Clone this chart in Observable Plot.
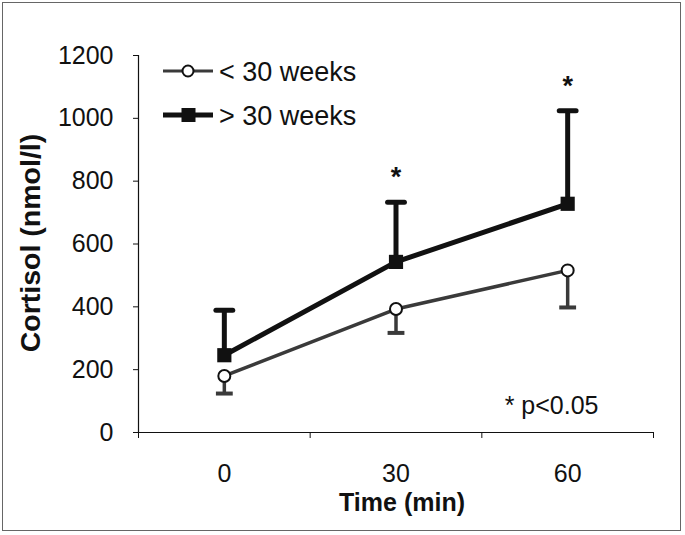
<!DOCTYPE html>
<html>
<head>
<meta charset="utf-8">
<script src="https://cdn.jsdelivr.net/npm/d3@7"></script>
<script src="https://cdn.jsdelivr.net/npm/@observablehq/plot@0.6"></script>
<style>
  html, body { margin: 0; padding: 0; background: #fff; }
  #wrap { position: relative; width: 685px; height: 535px; }
  #border { position: absolute; left: 2px; top: 2px; width: 679px; height: 529px; border: 1px solid #666; box-sizing: border-box; pointer-events: none; }
  svg { font-family: "Liberation Sans", Arial, sans-serif; }
</style>
</head>
<body>
<div id="wrap"><div id="border"></div></div>
<script>
// ---- data ----
const times = [0, 30, 60];
const under30Mean = [180, 393, 516];
const under30Lower = [124, 317, 398];
const over30Mean = [246, 543, 728];
const over30Upper = [389, 733, 1024];
const significant = [30, 60];
const yTicks = [0, 200, 400, 600, 800, 1000, 1200];
const xTickLabels = [0, 30, 60];
const xBandEdges = [-15, 15, 45, 75];
const seriesNames = ["< 30 weeks", "> 30 weeks"];

const under = times.map((t, i) => ({t, mean: under30Mean[i], err: under30Lower[i]}));
const over = times.map((t, i) => ({t, mean: over30Mean[i], err: over30Upper[i]}));
const stars = significant.map(t => over.find(d => d.t === t));

const hline = {
  draw(context, size) {
    const w = Math.sqrt(size) / 2;
    context.moveTo(-w, 0);
    context.lineTo(w, 0);
  }
};

const FONT = 25;
const grayC = "#3a3a3a";

const chart = Plot.plot({
  width: 685,
  height: 535,
  marginLeft: 138,
  marginRight: 32,
  marginTop: 55,
  marginBottom: 103,
  style: {fontFamily: "'Liberation Sans', Arial, sans-serif", background: "transparent", overflow: "visible"},
  x: {type: "linear", domain: [xBandEdges[0], xBandEdges[xBandEdges.length - 1]]},
  y: {domain: [0, 1200]},
  marks: [
    // axes lines
    Plot.ruleX([xBandEdges[0]], {stroke: "#111", strokeWidth: 1.2}),
    Plot.ruleY([0], {stroke: "#111", strokeWidth: 1.2}),
    Plot.axisY({ticks: yTicks, tickSize: 5, tickPadding: 20, fontSize: FONT, tickFormat: d => String(d), label: null, stroke: "#111", color: "#111"}),
    Plot.axisX({ticks: xBandEdges, tickSize: 6, tickFormat: () => "", label: null, stroke: "#111"}),
    Plot.axisX({ticks: xTickLabels, tickSize: 0, tickPadding: 32, fontSize: FONT, tickFormat: d => String(d), label: null, color: "#111"}),
    // error bars (< 30 weeks, downward)
    Plot.ruleX(under, {x: "t", y1: "mean", y2: "err", stroke: grayC, strokeWidth: 3.5}),
    Plot.dot(under, {x: "t", y: "err", symbol: hline, r: 9.5, stroke: grayC, strokeWidth: 4, fill: "none"}),
    // error bars (> 30 weeks, upward)
    Plot.ruleX(over, {x: "t", y1: "mean", y2: "err", stroke: "#111", strokeWidth: 5}),
    Plot.dot(over, {x: "t", y: "err", symbol: hline, r: 9.5, stroke: "#111", strokeWidth: 5, strokeLinecap: "round", fill: "none"}),
    // lines
    Plot.line(under, {x: "t", y: "mean", stroke: grayC, strokeWidth: 3.5}),
    Plot.line(over, {x: "t", y: "mean", stroke: "#111", strokeWidth: 5}),
    // markers
    Plot.dot(under, {x: "t", y: "mean", r: 6, fill: "#fff", stroke: "#111", strokeWidth: 2}),
    Plot.dot(over, {x: "t", y: "mean", symbol: "square", r: 8, fill: "#111", stroke: "none"}),
    // significance asterisks
    Plot.text(stars, {x: "t", y: "err", text: () => "*", fontSize: 27, fontWeight: "bold", lineAnchor: "bottom", dy: -16, fill: "#111"}),
    Plot.text(["* p<0.05"], {frameAnchor: "bottom-right", textAnchor: "end", lineAnchor: "bottom", dx: -55, dy: -19, fontSize: FONT, fill: "#111"}),
    // axis titles
    Plot.text(["Time (min)"], {frameAnchor: "bottom", textAnchor: "middle", lineAnchor: "bottom", dx: 6, dy: 78, fontSize: FONT, fontWeight: "bold", fill: "#111"}),
    Plot.text(["Cortisol (nmol/l)"], {frameAnchor: "left", textAnchor: "middle", rotate: -90, lineAnchor: "middle", dx: -108, dy: -1, fontSize: 28.5, fontWeight: "bold", fill: "#111"})
  ]
});

document.getElementById("wrap").prepend(chart);

// legend (inside plot area, top-left)
const svg = d3.select(chart);
const lg = svg.append("g").attr("font-family", "'Liberation Sans', Arial, sans-serif").attr("font-size", 27).attr("fill", "#111").attr("text-anchor", "start");
const rows = [
  {name: seriesNames[0], y: 71, stroke: grayC, sw: 3, kind: "circle"},
  {name: seriesNames[1], y: 115, stroke: "#111", sw: 5, kind: "square"}
];
rows.forEach(r => {
  lg.append("line").attr("x1", 163).attr("x2", 213).attr("y1", r.y).attr("y2", r.y).attr("stroke", r.stroke).attr("stroke-width", r.sw);
  if (r.kind === "circle") {
    lg.append("circle").attr("cx", 188).attr("cy", r.y).attr("r", 5.5).attr("fill", "#fff").attr("stroke", "#111").attr("stroke-width", 2);
  } else {
    lg.append("rect").attr("x", 181.5).attr("y", r.y - 7).attr("width", 14).attr("height", 14).attr("fill", "#111");
  }
  lg.append("text").attr("x", 219).attr("y", r.y + 10).attr("text-anchor", "start").text(r.name);
});
</script>
</body>
</html>
